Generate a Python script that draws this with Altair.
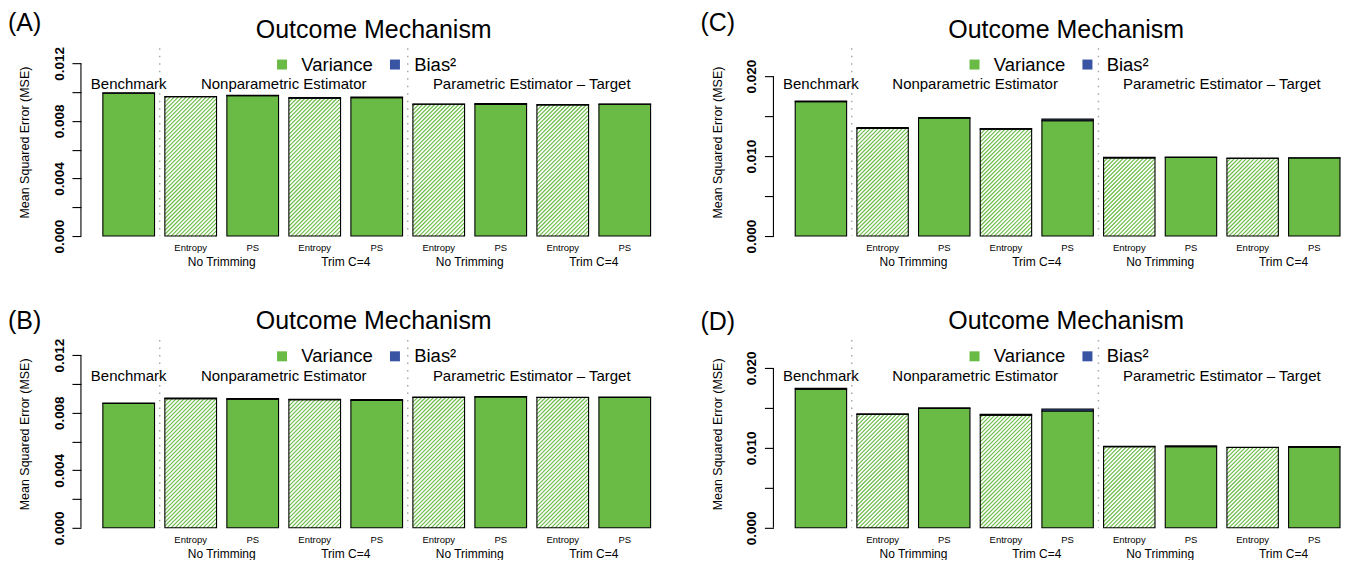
import altair as alt
import pandas as pd

GREEN = "#6ABB46"
BLUE = "#3A54A4"
FONT = "Liberation Sans"

# ---------------- data ----------------
bar_labels = ["Benchmark", "Entropy", "PS", "Entropy", "PS", "Entropy", "PS", "Entropy", "PS"]
bar_hatched = [False, True, False, True, False, True, False, True, False]
group_names = ["Benchmark", "Nonparametric Estimator", "Parametric Estimator \u2013 Target"]
group_bars = [[0], [1, 2, 3, 4], [5, 6, 7, 8]]
trim_names = ["No Trimming", "Trim C=4", "No Trimming", "Trim C=4"]
trim_bars = [[1, 2], [3, 4], [5, 6], [7, 8]]
separators_after = [0, 4]
legend_names = ["Variance", "Bias\u00b2"]

var_A = [0.00993, 0.00968, 0.00976, 0.00958, 0.00961, 0.00916, 0.00915, 0.00911, 0.00916]
bias_A = [0.00002, 0.00002, 0.00003, 0.00005, 0.00006, 0.00001, 0.00006, 0.00003, 0.00001]
var_B = [0.00864, 0.00898, 0.00895, 0.00891, 0.00886, 0.00906, 0.00910, 0.00906, 0.00906]
bias_B = [0.00004, 0.00004, 0.00003, 0.00002, 0.00005, 0.00003, 0.00002, 0.00001, 0.00003]
var_C = [0.01682, 0.01346, 0.01474, 0.01337, 0.01443, 0.00978, 0.00982, 0.00969, 0.00976]
bias_C = [0.00008, 0.00011, 0.00008, 0.00008, 0.00019, 0.00006, 0.00007, 0.00007, 0.00004]
var_D = [0.01735, 0.01418, 0.01493, 0.01410, 0.01462, 0.01015, 0.01015, 0.01004, 0.01010]
bias_D = [0.00011, 0.00007, 0.00007, 0.00011, 0.00025, 0.00006, 0.00010, 0.00004, 0.00006]

ticks_small = [0.0, 0.002, 0.004, 0.006, 0.008, 0.010, 0.012]
ticks_large = [0.0, 0.005, 0.010, 0.015, 0.020]

# R barplot layout: width 1, space 0.2
bar_left = [0.2 + 1.2 * i for i in range(9)]

PLOT_H = 188
HATCH_STEP = 4.0  # horizontal distance between hatch lines, px


def hatch_rows(variance, kx, ky):
    """45-degree hatch segments clipped to each hatched bar (computed in pixel space,
    returned in data units so they go through the chart's scales)."""
    rows = []
    for i in range(9):
        if not bar_hatched[i]:
            continue
        w = 1.0 * kx
        hb = variance[i] * ky
        c = -w + 1.5
        while c < hb:
            x1 = max(0.0, -c)
            x2 = min(w, hb - c)
            if x2 - x1 > 0.3:
                rows.append({
                    "hx": bar_left[i] + x1 / kx, "hy": (x1 + c) / ky,
                    "hx2": bar_left[i] + x2 / kx, "hy2": (x2 + c) / ky,
                })
            c += HATCH_STEP
    return pd.DataFrame(rows)


def make_panel(letter, variance, bias, ymax, ticks, label_step, width, xmax, letter_y, title_y):
    h = PLOT_H
    xmin = -0.224
    kx = width / (xmax - xmin)
    ky = h / ymax
    xscale = alt.Scale(domain=[xmin, xmax], nice=False, zero=False)
    yscale = alt.Scale(domain=[0, ymax], nice=False, zero=True)
    yaxis = alt.Axis(
        values=ticks,
        labelExpr=f"(round(datum.value*1000) % {label_step} == 0) ? format(datum.value, '.3f') : ''",
        domain=False, grid=False, ticks=True, tickSize=9, tickWidth=1.1, tickColor="black",
        labelAngle=270, labelAlign="center", labelBaseline="alphabetic", labelPadding=8.5,
        labelFontSize=13.5, labelFontWeight="bold", labelColor="black", labelOverlap=False,
        labelFont=FONT,
        title="Mean Squared Error (MSE)", titleFontSize=12.5, titleFontWeight="normal",
        titleFont=FONT, titleColor="black",
        titleAngle=270, titleX=-56, titleY=h / 2, titleAlign="center", titleBaseline="middle",
    )
    rows = []
    for i in range(9):
        l = bar_left[i]
        v = variance[i]
        b = bias[i]
        rows.append({"bar": i, "left": l, "right": l + 1, "comp": legend_names[0],
                     "y0": 0.0, "y1": v, "hatched": bar_hatched[i]})
        rows.append({"bar": i, "left": l, "right": l + 1, "comp": legend_names[1],
                     "y0": v, "y1": v + b, "hatched": bar_hatched[i]})
    df = pd.DataFrame(rows)
    X = alt.X("left:Q", scale=xscale, axis=None)
    Y = alt.Y("y0:Q", scale=yscale, axis=yaxis)

    layers = []

    # hatch lines of the Entropy bars
    hdf = hatch_rows(variance, kx, ky)
    layers.append(
        alt.Chart(hdf).mark_rule(color=GREEN, strokeWidth=1.15)
        .encode(
            x=alt.X("hx:Q", scale=xscale, axis=None), x2="hx2:Q",
            y=alt.Y("hy:Q", scale=yscale, axis=yaxis), y2="hy2:Q",
        )
    )
    # outline of the hatched bars
    layers.append(
        alt.Chart(df)
        .transform_filter(f"datum.hatched && datum.comp == '{legend_names[0]}'")
        .mark_rect(filled=False, stroke="black", strokeWidth=1.1)
        .encode(x=X, x2="right:Q", y=Y, y2="y1:Q")
    )

    solid = (
        alt.Chart(df)
        .transform_filter(f"!(datum.hatched && datum.comp == '{legend_names[0]}')")
        .mark_rect(stroke="black", strokeWidth=1.1)
        .encode(
            x=X, x2="right:Q", y=Y, y2="y1:Q",
            color=alt.Color(
                "comp:N",
                scale=alt.Scale(domain=legend_names, range=[GREEN, BLUE]),
                legend=alt.Legend(
                    orient="none", legendX=192, legendY=7, direction="horizontal",
                    title=None, symbolType="square", symbolSize=100, symbolStrokeWidth=0,
                    symbolOpacity=1, labelFontSize=18.5, labelFont=FONT, labelColor="black",
                    labelOffset=10, columnPadding=12, padding=0, labelLimit=200,
                ),
            ),
        )
    )
    layers.append(solid)

    # y axis line (only up to the last tick, like R)
    axis_df = pd.DataFrame({"a": [0.0], "b": [ticks[-1]]})
    layers.append(
        alt.Chart(axis_df).mark_rule(color="black", strokeWidth=1.1)
        .encode(x=alt.value(0), y=alt.Y("a:Q", scale=yscale, axis=yaxis), y2="b:Q")
    )

    # dotted separators
    sep_df = pd.DataFrame({"sx": [(bar_left[i] + 1 + bar_left[i + 1]) / 2 for i in separators_after]})
    layers.append(
        alt.Chart(sep_df).mark_rule(color="#a8a8a8", strokeDash=[1.5, 6], strokeWidth=1.5)
        .encode(x=alt.X("sx:Q", scale=xscale, axis=None), y=alt.value(0), y2=alt.value(h))
    )

    # bar labels under bars
    lab_df = pd.DataFrame({
        "cx": [bar_left[i] + 0.5 for i in range(1, 9)],
        "name": [bar_labels[i] for i in range(1, 9)],
    })
    layers.append(
        alt.Chart(lab_df).mark_text(fontSize=9.5, font=FONT, color="black", baseline="middle")
        .encode(x=alt.X("cx:Q", scale=xscale, axis=None), y=alt.value(h + 12), text="name:N")
    )
    trim_df = pd.DataFrame({
        "cx": [(bar_left[a] + bar_left[b] + 1) / 2 for a, b in trim_bars],
        "name": trim_names,
    })
    layers.append(
        alt.Chart(trim_df).mark_text(fontSize=12, font=FONT, color="black", baseline="middle")
        .encode(x=alt.X("cx:Q", scale=xscale, axis=None), y=alt.value(h + 26), text="name:N")
    )
    grp_df = pd.DataFrame({
        "cx": [(bar_left[g[0]] + bar_left[g[-1]] + 1) / 2 for g in group_bars],
        "name": group_names,
    })
    layers.append(
        alt.Chart(grp_df).mark_text(fontSize=15, font=FONT, color="black", baseline="middle")
        .encode(x=alt.X("cx:Q", scale=xscale, axis=None), y=alt.value(36), text="name:N")
    )
    title_df = pd.DataFrame({"t": ["Outcome Mechanism"]})
    layers.append(
        alt.Chart(title_df).mark_text(fontSize=25, font=FONT, color="black", baseline="middle")
        .encode(x=alt.value(293), y=alt.value(title_y), text="t:N")
    )
    letter_df = pd.DataFrame({"t": [f"({letter})"]})
    layers.append(
        alt.Chart(letter_df).mark_text(fontSize=25, font=FONT, color="black", baseline="middle",
                                       align="left")
        .encode(x=alt.value(-73), y=alt.value(letter_y), text="t:N")
    )

    return alt.layer(*layers).properties(width=width, height=h)


pA = make_panel("A", var_A, bias_A, 0.01306, ticks_small, 4, 592, 11.224, -25.5, -18.5)
pB = make_panel("B", var_B, bias_B, 0.01306, ticks_small, 4, 592, 11.224, -19, -18.5)
pC = make_panel("C", var_C, bias_C, 0.0235, ticks_large, 10, 567, 10.8, -25.5, -18.5)
pD = make_panel("D", var_D, bias_D, 0.0235, ticks_large, 10, 567, 10.8, -18, -18.5)

chart = (
    alt.concat(pA, pC, pB, pD, columns=2, spacing={"row": 104, "column": 101}, bounds="flush")
    .resolve_scale(color="independent")
    .properties(padding={"left": 0, "top": 2, "right": 0, "bottom": 0}, background="white")
    .configure_view(stroke=None)
)

chart.save("out.html", embed_options={"renderer": "svg", "actions": False})
